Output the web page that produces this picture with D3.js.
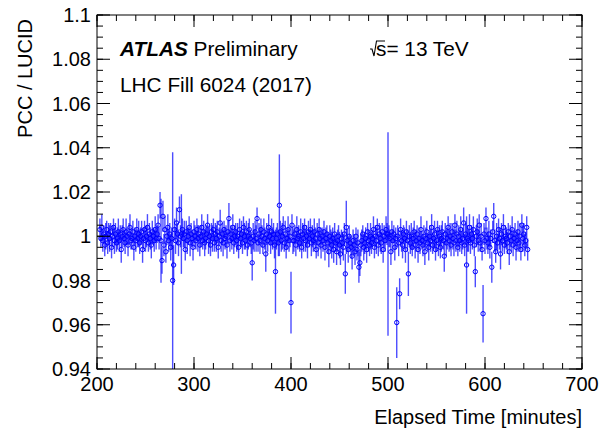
<!DOCTYPE html>
<html>
<head>
<meta charset="utf-8">
<script src="https://cdn.jsdelivr.net/npm/d3@7"></script>
<style>
  body { margin: 0; background: #fff; }
  svg { display: block; font-family: "Liberation Sans", Arial, Helvetica, sans-serif; }
  .tick-label { font-size: 20px; fill: #000; }
  .axis-title { font-size: 20px; fill: #000; }
</style>
</head>
<body>
<div id="chart"></div>
<script>
// first point sits at this minute, one point per minute after that
const firstMinute = 203;

// PCC / LUCID ratio, one value per minute
const ratio = [
  1.003, 0.999, 1.004, 0.998, 1.001, 0.996, 1.000, 1.003, 0.997, 1.001, 0.999, 1.002, 0.995, 1.000, 1.004, 0.998, 1.001, 0.997, 0.999, 1.002,
  0.998, 1.001, 0.994, 1.000, 1.003, 0.999, 0.997, 1.002, 1.000, 0.996, 1.001, 1.004, 0.998, 0.999, 1.002, 0.995, 1.000, 0.998, 1.003, 0.999,
  1.001, 0.997, 1.000, 1.002, 0.994, 0.999, 1.003, 0.998, 1.000, 1.004, 0.997, 1.001, 0.999, 0.996, 1.002, 1.000, 0.998, 1.003, 0.999, 1.001,
  1.005, 0.999, 1.014, 0.998, 0.989, 1.009, 0.996, 1.003, 0.993, 1.000, 1.004, 0.998, 1.001, 0.995, 0.999, 0.980, 0.987, 1.003, 0.998, 1.006,
  1.001, 0.997, 1.012, 1.000, 1.001, 1.003, 0.999, 1.001, 0.994, 1.002, 0.998, 1.000, 1.004, 0.997, 1.001, 0.999, 0.995, 1.002, 1.000, 0.998,
  1.003, 0.999, 1.001, 0.996, 1.000, 1.004, 0.998, 1.002, 0.997, 0.999, 1.001, 1.005, 0.998, 1.000, 0.996, 1.002, 0.999, 1.003, 0.997, 1.001,
  0.999, 1.002, 0.995, 1.000, 1.006, 0.998, 1.001, 0.997, 1.003, 0.999, 1.000, 0.996, 1.002, 1.008, 0.998, 1.001, 0.999, 1.004, 0.997, 1.000,
  1.002, 0.998, 1.000, 0.995, 1.003, 0.999, 1.001, 0.997, 1.004, 1.000, 0.998, 1.002, 0.996, 1.000, 1.003, 0.999, 0.997, 0.988, 1.000, 0.998,
  1.002, 0.999, 1.008, 0.997, 1.001, 0.998, 1.003, 1.000, 0.996, 1.002, 0.999, 0.992, 1.001, 0.998, 1.004, 1.000, 0.997, 1.002, 0.999, 1.001,
  0.996, 0.984, 0.999, 1.001, 0.997, 1.014, 1.002, 0.998, 1.000, 1.004, 0.997, 1.001, 0.995, 0.999, 1.003, 0.998, 1.000, 0.970, 1.005, 0.998,
  0.998, 1.001, 0.996, 1.003, 0.999, 1.000, 0.997, 1.002, 0.995, 1.001, 0.999, 1.004, 0.998, 1.000, 0.996, 1.002, 0.999, 1.003, 0.997, 1.000,
  0.998, 1.002, 0.999, 0.994, 1.001, 0.997, 1.003, 0.999, 0.996, 1.000, 0.998, 1.002, 0.995, 0.999, 1.001, 0.997, 0.993, 1.000, 0.998, 0.996,
  0.999, 0.994, 1.001, 0.997, 0.993, 0.998, 1.000, 0.996, 0.992, 0.999, 0.997, 0.995, 1.001, 0.983, 1.004, 0.998, 0.994, 1.000, 0.997, 0.995,
  0.991, 0.998, 0.996, 0.993, 1.000, 0.994, 0.997, 0.986, 0.988, 0.996, 0.998, 1.001, 0.995, 0.997, 0.999, 0.994, 1.002, 0.998, 0.996, 1.000,
  0.997, 0.999, 1.003, 0.995, 1.000, 0.998, 1.004, 0.996, 1.001, 0.999, 0.997, 1.002, 0.994, 1.000, 0.998, 1.003, 1.001, 1.001, 1.000, 0.999,
  0.993, 1.002, 0.998, 1.001, 0.995, 0.999, 0.961, 1.000, 0.997, 0.974, 1.003, 0.998, 0.996, 1.001, 0.999, 0.994, 1.002, 0.998, 0.983, 1.000,
  0.997, 1.000, 0.995, 0.999, 1.002, 0.996, 0.998, 1.001, 0.994, 0.999, 0.997, 1.003, 0.998, 0.996, 1.000, 0.993, 0.999, 1.002, 0.997, 0.995,
  1.000, 0.998, 1.004, 0.996, 0.999, 1.001, 0.994, 0.998, 1.003, 0.997, 1.000, 0.995, 0.999, 1.002, 0.998, 0.991, 1.001, 0.997, 0.999, 1.004,
  0.998, 1.000, 0.996, 1.002, 0.999, 0.997, 1.005, 0.998, 1.001, 0.995, 1.000, 0.998, 1.003, 0.997, 0.999, 1.006, 0.996, 1.001, 0.987, 0.999,
  0.998, 1.004, 0.997, 1.001, 0.999, 1.003, 0.996, 0.984, 1.000, 1.002, 0.998, 1.005, 0.997, 1.000, 0.994, 0.965, 1.001, 0.998, 1.008, 0.999,
  0.997, 1.001, 0.995, 0.999, 0.986, 1.002, 1.009, 0.998, 0.993, 1.000, 0.997, 1.003, 0.999, 0.992, 1.001, 0.998, 1.004, 0.996, 1.000, 0.999,
  0.997, 1.002, 0.993, 1.000, 0.998, 1.003, 0.996, 0.999, 1.001, 0.995, 0.998, 1.002, 0.997, 1.000, 0.994, 1.005, 0.999, 1.001, 0.996, 0.998,
  1.004, 0.994
];

// error on each ratio, in units of 0.001
const errMilli = [
  5, 4, 6, 5, 4, 5, 6, 4, 5, 5, 6, 4, 5, 5, 4, 6, 5, 4, 5, 6,
  5, 4, 6, 5, 5, 4, 5, 6, 4, 5, 5, 6, 4, 5, 5, 6, 4, 5, 5, 4,
  6, 5, 4, 5, 6, 5, 4, 5, 5, 6, 4, 5, 5, 6, 5, 4, 5, 6, 5, 4,
  5, 5, 6, 19, 6, 7, 5, 6, 5, 4, 6, 5, 5, 6, 5, 58, 9, 5, 6, 7,
  5, 6, 6, 5, 18, 5, 4, 6, 5, 5, 6, 4, 5, 6, 5, 4, 6, 5, 5, 4,
  5, 6, 4, 5, 5, 6, 4, 5, 6, 5, 4, 5, 6, 5, 5, 4, 6, 5, 4, 5,
  6, 5, 5, 4, 6, 5, 5, 6, 4, 5, 5, 6, 5, 7, 5, 4, 5, 6, 5, 5,
  4, 5, 6, 5, 5, 4, 6, 5, 5, 6, 4, 5, 5, 6, 5, 4, 5, 8, 6, 5,
  5, 6, 5, 4, 5, 6, 5, 5, 4, 6, 5, 8, 5, 5, 6, 4, 5, 6, 5, 5,
  6, 19, 5, 5, 6, 23, 5, 5, 6, 5, 4, 6, 5, 5, 6, 5, 5, 14, 5, 6,
  5, 4, 5, 6, 5, 5, 4, 6, 5, 5, 6, 4, 5, 5, 6, 5, 4, 5, 6, 5,
  5, 6, 5, 4, 5, 6, 5, 5, 6, 4, 5, 5, 6, 5, 4, 5, 7, 5, 5, 6,
  5, 6, 5, 4, 6, 5, 5, 6, 5, 4, 5, 6, 5, 9, 12, 5, 6, 5, 4, 5,
  6, 5, 5, 6, 4, 5, 6, 7, 6, 5, 5, 4, 6, 5, 5, 6, 4, 5, 5, 6,
  5, 4, 6, 5, 5, 6, 4, 5, 5, 6, 5, 4, 6, 5, 5, 6, 5, 46, 5, 4,
  6, 5, 5, 4, 6, 5, 16, 5, 6, 7, 5, 5, 6, 4, 5, 6, 5, 5, 10, 5,
  5, 6, 4, 5, 5, 6, 5, 4, 6, 5, 5, 6, 4, 5, 5, 6, 5, 5, 4, 6,
  5, 5, 6, 4, 5, 6, 5, 5, 4, 6, 5, 5, 6, 5, 4, 7, 5, 6, 5, 5,
  5, 6, 5, 4, 5, 6, 5, 5, 6, 4, 5, 5, 6, 5, 5, 7, 5, 5, 22, 6,
  5, 6, 5, 4, 5, 6, 5, 7, 5, 6, 5, 5, 4, 6, 5, 13, 5, 6, 5, 5,
  5, 6, 5, 4, 7, 5, 6, 5, 5, 6, 4, 5, 5, 7, 5, 5, 6, 4, 5, 5,
  5, 4, 6, 5, 5, 6, 5, 4, 5, 6, 5, 5, 4, 6, 5, 5, 6, 5, 5, 4,
  5, 5
];

const xTicks = [200, 300, 400, 500, 600, 700];
const yTicks = [0.94, 0.96, 0.98, 1, 1.02, 1.04, 1.06, 1.08, 1.1];

const width = 608;
const height = 435;
const marginTop = 15;
const marginBottom = 66;
const marginLeft = 97;
const marginRight = 26;

const x = d3.scaleLinear().domain([200, 700]).range([marginLeft, width - marginRight]);
const y = d3.scaleLinear().domain([0.94, 1.1]).range([height - marginBottom, marginTop]);

const points = ratio.map((v, i) => ({ t: firstMinute + i, v: v, e: errMilli[i] / 1000 }));

const svg = d3.select('#chart').append('svg')
  .attr('width', width)
  .attr('height', height);

svg.append('clipPath').attr('id', 'plot-clip')
  .append('rect')
  .attr('x', x(200)).attr('y', y(1.1))
  .attr('width', x(700) - x(200)).attr('height', y(0.94) - y(1.1));

const plot = svg.append('g').attr('clip-path', 'url(#plot-clip)');

// error bars
plot.selectAll('.err')
  .data(points)
  .enter()
  .append('line')
  .attr('class', 'err')
  .attr('x1', d => x(d.t)).attr('x2', d => x(d.t))
  .attr('y1', d => y(d.v + d.e)).attr('y2', d => y(d.v - d.e))
  .attr('stroke', '#0000ff')
  .attr('stroke-opacity', 0.7)
  .attr('stroke-width', 1.4);

// open circle markers
plot.selectAll('.pt')
  .data(points)
  .enter()
  .append('circle')
  .attr('class', 'pt')
  .attr('cx', d => x(d.t))
  .attr('cy', d => y(d.v))
  .attr('r', 2.2)
  .attr('fill', 'none')
  .attr('stroke', '#0000ff')
  .attr('stroke-width', 1);

// ROOT style frame with inward ticks on all sides
const frame = svg.append('g');
frame.append('rect')
  .attr('x', x(200)).attr('y', y(1.1))
  .attr('width', x(700) - x(200)).attr('height', y(0.94) - y(1.1))
  .attr('fill', 'none').attr('stroke', '#000').attr('stroke-width', 1);

const xMinor = d3.range(200, 701, 20);
const yMinor = d3.range(0, 33).map(i => 0.94 + i * 0.005);

function tickLines(vals, len, cls) {
  // bottom and top
  frame.selectAll('.xb' + cls).data(vals).enter().append('line')
    .attr('x1', d => x(d)).attr('x2', d => x(d))
    .attr('y1', y(0.94)).attr('y2', y(0.94) - len)
    .attr('stroke', '#000');
  frame.selectAll('.xt' + cls).data(vals).enter().append('line')
    .attr('x1', d => x(d)).attr('x2', d => x(d))
    .attr('y1', y(1.1)).attr('y2', y(1.1) + len)
    .attr('stroke', '#000');
}
function yTickLines(vals, len, cls) {
  frame.selectAll('.yl' + cls).data(vals).enter().append('line')
    .attr('y1', d => y(d)).attr('y2', d => y(d))
    .attr('x1', x(200)).attr('x2', x(200) + len)
    .attr('stroke', '#000');
  frame.selectAll('.yr' + cls).data(vals).enter().append('line')
    .attr('y1', d => y(d)).attr('y2', d => y(d))
    .attr('x1', x(700)).attr('x2', x(700) - len)
    .attr('stroke', '#000');
}
tickLines(xMinor, 6, 'mn');
tickLines(xTicks, 12, 'mj');
yTickLines(yMinor, 6, 'mn');
yTickLines(yTicks, 13, 'mj');

// tick labels
svg.selectAll('.xlab').data(xTicks).enter().append('text')
  .attr('class', 'tick-label')
  .attr('x', d => x(d)).attr('y', 391)
  .attr('text-anchor', 'middle')
  .text(d => d);

svg.selectAll('.ylab').data(yTicks).enter().append('text')
  .attr('class', 'tick-label')
  .attr('x', 91).attr('y', d => y(d) + 7)
  .attr('text-anchor', 'end')
  .text(d => d3.format('~g')(d));

// axis titles
svg.append('text').attr('class', 'axis-title')
  .attr('x', x(700)).attr('y', 424)
  .attr('text-anchor', 'end')
  .text('Elapsed Time [minutes]');

svg.append('text').attr('class', 'axis-title')
  .attr('transform', `translate(32, 19) rotate(-90)`)
  .attr('text-anchor', 'end')
  .text('PCC / LUCID');

// labels inside the frame
const atlas = svg.append('text').attr('x', 120).attr('y', 56).attr('font-size', 20.8);
atlas.append('tspan').attr('font-weight', 'bold').attr('font-style', 'italic').text('ATLAS');
atlas.append('tspan').text(' Preliminary');

svg.append('text').attr('x', 120).attr('y', 92).attr('font-size', 20.8)
  .text('LHC Fill 6024 (2017)');

const sqrtS = svg.append('g').attr('transform', 'translate(370, 56)');
sqrtS.append('path')
  .attr('d', 'M0,-7 L2,-7 L4,0 L6.5,-15 L15,-15')
  .attr('fill', 'none').attr('stroke', '#000').attr('stroke-width', 1.1);
sqrtS.append('text').attr('x', 6).attr('y', 0).attr('font-size', 20.8)
  .text('s= 13 TeV');
</script>
</body>
</html>
